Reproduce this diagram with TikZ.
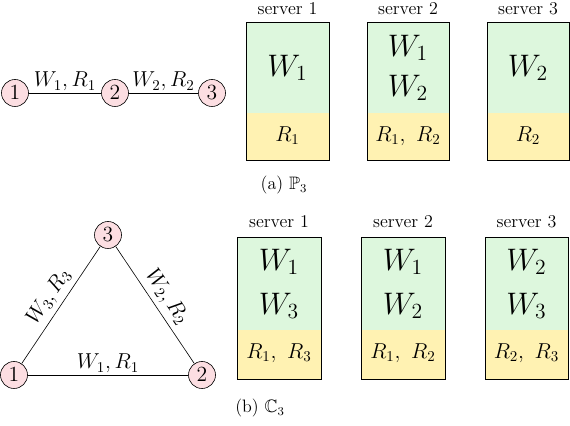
\documentclass[tikz,border=0pt]{standalone}
\usepackage{tikz}
\usepackage{amsmath}
\usepackage{amsfonts}

\definecolor{nodepink}{RGB}{252,222,226}
\definecolor{wgreen}{RGB}{221,247,221}
\definecolor{ryellow}{RGB}{255,242,178}

\begin{document}
\begin{tikzpicture}[x={(0.6667pt,0)},y={(0,-0.6667pt)},
        vertex/.style={circle,draw,fill=nodepink,minimum size=18pt,inner sep=0pt,font=\Large},
        edgelab/.style={font=\Large,inner sep=1pt},
        srvlab/.style={font=\large},
        wlab/.style={font=\huge},
        rlab/.style={font=\Large}]
        \useasboundingbox (0,0) rectangle (570,426);

        % path graph P_3
        \node[vertex](p1) at (15,93) {$1$};
        \node[vertex](p2) at (115,93) {$2$};
        \node[vertex](p3) at (212,93) {$3$};
        \draw (p1)--(p2) node[midway,above,edgelab]{$W_1, R_1$};
        \draw (p2)--(p3) node[midway,above,edgelab]{$W_2, R_2$};

        % servers for P_3
        \fill[wgreen] (246,22) rectangle (329,113);
        \fill[ryellow] (246,113) rectangle (329,160);
        \draw (246,22) rectangle (329,160);
        \node[srvlab](ps1) at (287.5,9) {server 1};
        \node[wlab](pw1) at (287.5,68) {$W_1$};
        \node[rlab](pr1) at (287.5,136) {$R_1$};

        \fill[wgreen] (367,22) rectangle (449,113);
        \fill[ryellow] (367,113) rectangle (449,160);
        \draw (367,22) rectangle (449,160);
        \node[srvlab](ps2) at (408,9) {server 2};
        \node[wlab](pw2a) at (408,48) {$W_1$};
        \node[wlab](pw2b) at (408,88) {$W_2$};
        \node[rlab](pr2) at (408,136) {$R_1,\ R_2$};

        \fill[wgreen] (487,22) rectangle (569,113);
        \fill[ryellow] (487,113) rectangle (569,160);
        \draw (487,22) rectangle (569,160);
        \node[srvlab](ps3) at (528,9) {server 3};
        \node[wlab](pw3) at (528,68) {$W_2$};
        \node[rlab](pr3) at (528,136) {$R_2$};

        \node[font=\large](capa) at (284,185) {(a) $\mathbb{P}_3$};

        % cycle graph C_3
        \node[vertex](c1) at (14,375) {$1$};
        \node[vertex](c2) at (202,375) {$2$};
        \node[vertex](c3) at (108,235) {$3$};
        \draw (c1)--(c2) node[midway,above,edgelab]{$W_1, R_1$};
        \draw (c1)--(c3) node[midway,above,sloped,edgelab,inner sep=3pt]{$W_3, R_3$};
        \draw (c3)--(c2) node[midway,above,sloped,edgelab,inner sep=3pt]{$W_2, R_2$};

        % servers for C_3
        \fill[wgreen] (237,237) rectangle (321,330);
        \fill[ryellow] (237,330) rectangle (321,379);
        \draw (237,237) rectangle (321,379);
        \node[srvlab](cs1) at (279,222) {server 1};
        \node[wlab](cw1a) at (279,262) {$W_1$};
        \node[wlab](cw1b) at (279,306) {$W_3$};
        \node[rlab](cr1) at (279,353) {$R_1,\ R_3$};

        \fill[wgreen] (361,237) rectangle (445,330);
        \fill[ryellow] (361,330) rectangle (445,379);
        \draw (361,237) rectangle (445,379);
        \node[srvlab](cs2) at (403,222) {server 2};
        \node[wlab](cw2a) at (403,262) {$W_1$};
        \node[wlab](cw2b) at (403,306) {$W_2$};
        \node[rlab](cr2) at (403,353) {$R_1,\ R_2$};

        \fill[wgreen] (485,237) rectangle (568,330);
        \fill[ryellow] (485,330) rectangle (568,379);
        \draw (485,237) rectangle (568,379);
        \node[srvlab](cs3) at (526.5,222) {server 3};
        \node[wlab](cw3a) at (526.5,262) {$W_2$};
        \node[wlab](cw3b) at (526.5,306) {$W_3$};
        \node[rlab](cr3) at (526.5,353) {$R_2,\ R_3$};

        \node[font=\large](capb) at (260,408) {(b) $\mathbb{C}_3$};
    \end{tikzpicture}
\end{document}
